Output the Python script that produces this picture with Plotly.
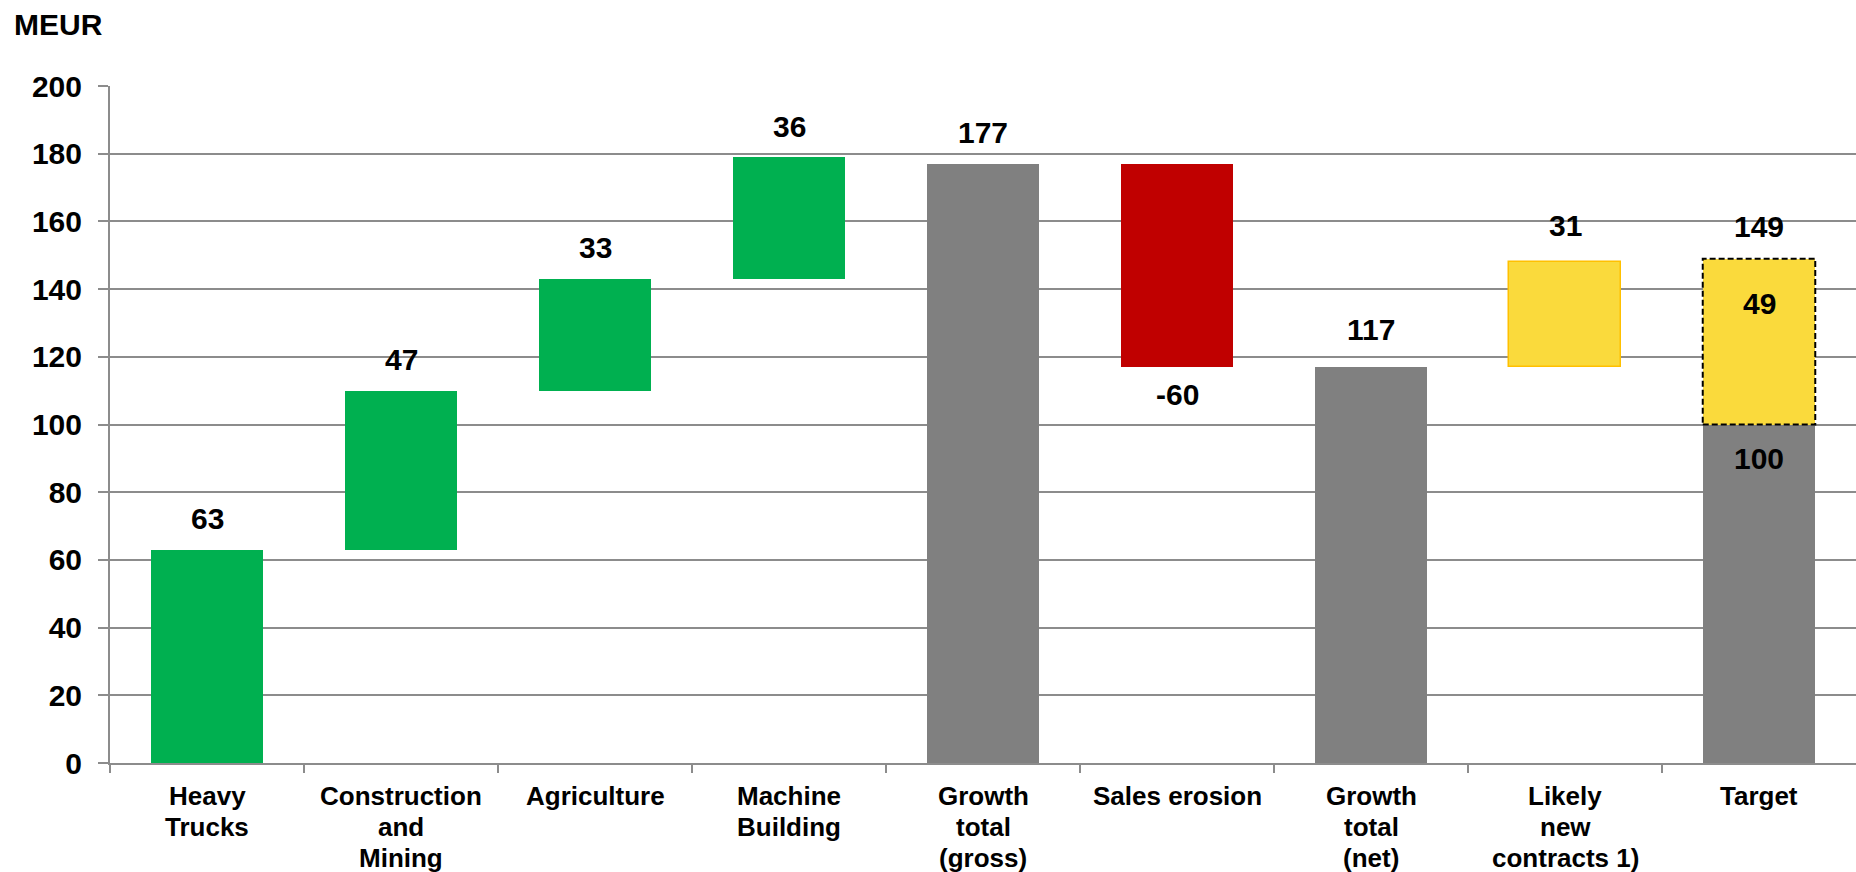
import plotly.graph_objects as go

# Waterfall of sales growth (MEUR)
categories = [
    ["Heavy", "Trucks"],
    ["Construction", "and", "Mining"],
    ["Agriculture"],
    ["Machine", "Building"],
    ["Growth", "total", "(gross)"],
    ["Sales erosion"],
    ["Growth", "total", "(net)"],
    ["Likely", "new", "contracts 1)"],
    ["Target"],
]
segment_deltas = [63, 47, 33, 36]
gross_total = 177
sales_erosion = -60
net_total = 117
likely_new = 31
target_base = 100
target_gap = 49
target_total = 149
y_ticks = [0, 20, 40, 60, 80, 100, 120, 140, 160, 180, 200]

GREEN = "#00B050"
GREY = "#808080"
RED = "#C00000"
YELLOW = "#FADA3C"
ORANGE = "#FFC000"
AXIS = "#8C8C8C"
FONT = "Liberation Sans, Arial, sans-serif"
BAR_W = 0.58

x = list(range(len(categories)))

# running base for the segment bars
seg_bases = []
run = 0
for d in segment_deltas:
    seg_bases.append(run)
    run += d

fig = go.Figure()

fig.add_trace(go.Bar(
    x=x[0:4], y=segment_deltas, base=seg_bases, width=BAR_W,
    marker=dict(color=GREEN, line=dict(width=0)),
))
fig.add_trace(go.Bar(
    x=[x[4], x[6], x[8]], y=[gross_total, net_total, target_base], base=[0, 0, 0],
    width=BAR_W, marker=dict(color=GREY, line=dict(width=0)),
))
fig.add_trace(go.Bar(
    x=[x[5]], y=[sales_erosion], base=[gross_total], width=BAR_W,
    marker=dict(color=RED, line=dict(width=0)),
))
fig.add_trace(go.Bar(
    x=[x[7]], y=[likely_new], base=[net_total], width=BAR_W,
    marker=dict(color=YELLOW, line=dict(color=ORANGE, width=1.5)),
))
fig.add_trace(go.Bar(
    x=[x[8]], y=[target_gap], base=[target_base], width=BAR_W,
    marker=dict(color=YELLOW, line=dict(width=0)),
))

# dashed outline around the open gap to target
fig.add_shape(
    type="rect", xref="x", yref="y",
    x0=x[8] - BAR_W / 2, x1=x[8] + BAR_W / 2,
    y0=target_base, y1=target_base + target_gap,
    line=dict(color="black", width=2, dash="6px,3px"),
    fillcolor="rgba(0,0,0,0)", layer="above",
)

label_font = dict(family=FONT, size=30, color="black", weight="bold")
cat_font = dict(family=FONT, size=26, color="black", weight="bold")


def label(xi, yv, text, shift):
    fig.add_annotation(
        x=xi, y=yv, xref="x", yref="y", text=text, showarrow=False,
        yanchor="middle", yshift=shift, font=label_font,
    )


for i, (b, d) in enumerate(zip(seg_bases, segment_deltas)):
    label(x[i], b + d, str(d), 31)
label(x[4], gross_total, str(gross_total), 31)
label(x[5], gross_total + sales_erosion, str(sales_erosion), -28)
label(x[6], net_total, str(net_total), 37)
label(x[7], net_total + likely_new, str(likely_new), 37)
label(x[8], target_total, str(target_total), 32)
label(x[8], target_total, str(target_gap), -45)
label(x[8], target_base, str(target_base), -34)

# category names under the axis, one line at a time (tight line spacing)
for i, lines in zip(x, categories):
    for k, line in enumerate(lines):
        fig.add_annotation(
            x=i, y=0, xref="x", yref="y", text=line, showarrow=False,
            xanchor="center", yanchor="middle", yshift=-33 - 30.8 * k,
            font=cat_font,
        )

fig.add_annotation(
    x=(12 - 110) / 1746, y=1 + (86 - 24) / 677, xref="paper", yref="paper",
    xanchor="left", yanchor="middle",
    text="MEUR", showarrow=False,
    font=dict(family=FONT, size=30, color="black", weight="bold"),
)

fig.update_layout(
    width=1856, height=872,
    margin=dict(l=110, r=0, t=86, b=109, pad=0),
    paper_bgcolor="white", plot_bgcolor="white",
    showlegend=False, barmode="overlay", bargap=0,
    xaxis=dict(
        range=[-0.5, len(categories) - 0.5], automargin=False,
        tickmode="array", tickvals=x, showticklabels=False,
        ticks="", showgrid=False, zeroline=False,
        showline=True, linecolor=AXIS, linewidth=2,
        minor=dict(tickmode="array", tickvals=[i + 0.5 for i in x[:-1]] + [-0.5],
                   ticks="outside", ticklen=8, tickwidth=2, tickcolor=AXIS,
                   showgrid=False),
    ),
    yaxis=dict(
        range=[0, 200], tickmode="array", tickvals=y_ticks, automargin=False,
        ticks="outside", ticklen=10, tickwidth=2, tickcolor=AXIS,
        showgrid=True, gridcolor=AXIS, gridwidth=2,
        zeroline=False, showline=True, linecolor=AXIS, linewidth=2,
        tickfont=dict(family=FONT, size=30, color="black", weight="bold"),
        ticklabelstandoff=10,
    ),
)

fig.write_html("out.html")
